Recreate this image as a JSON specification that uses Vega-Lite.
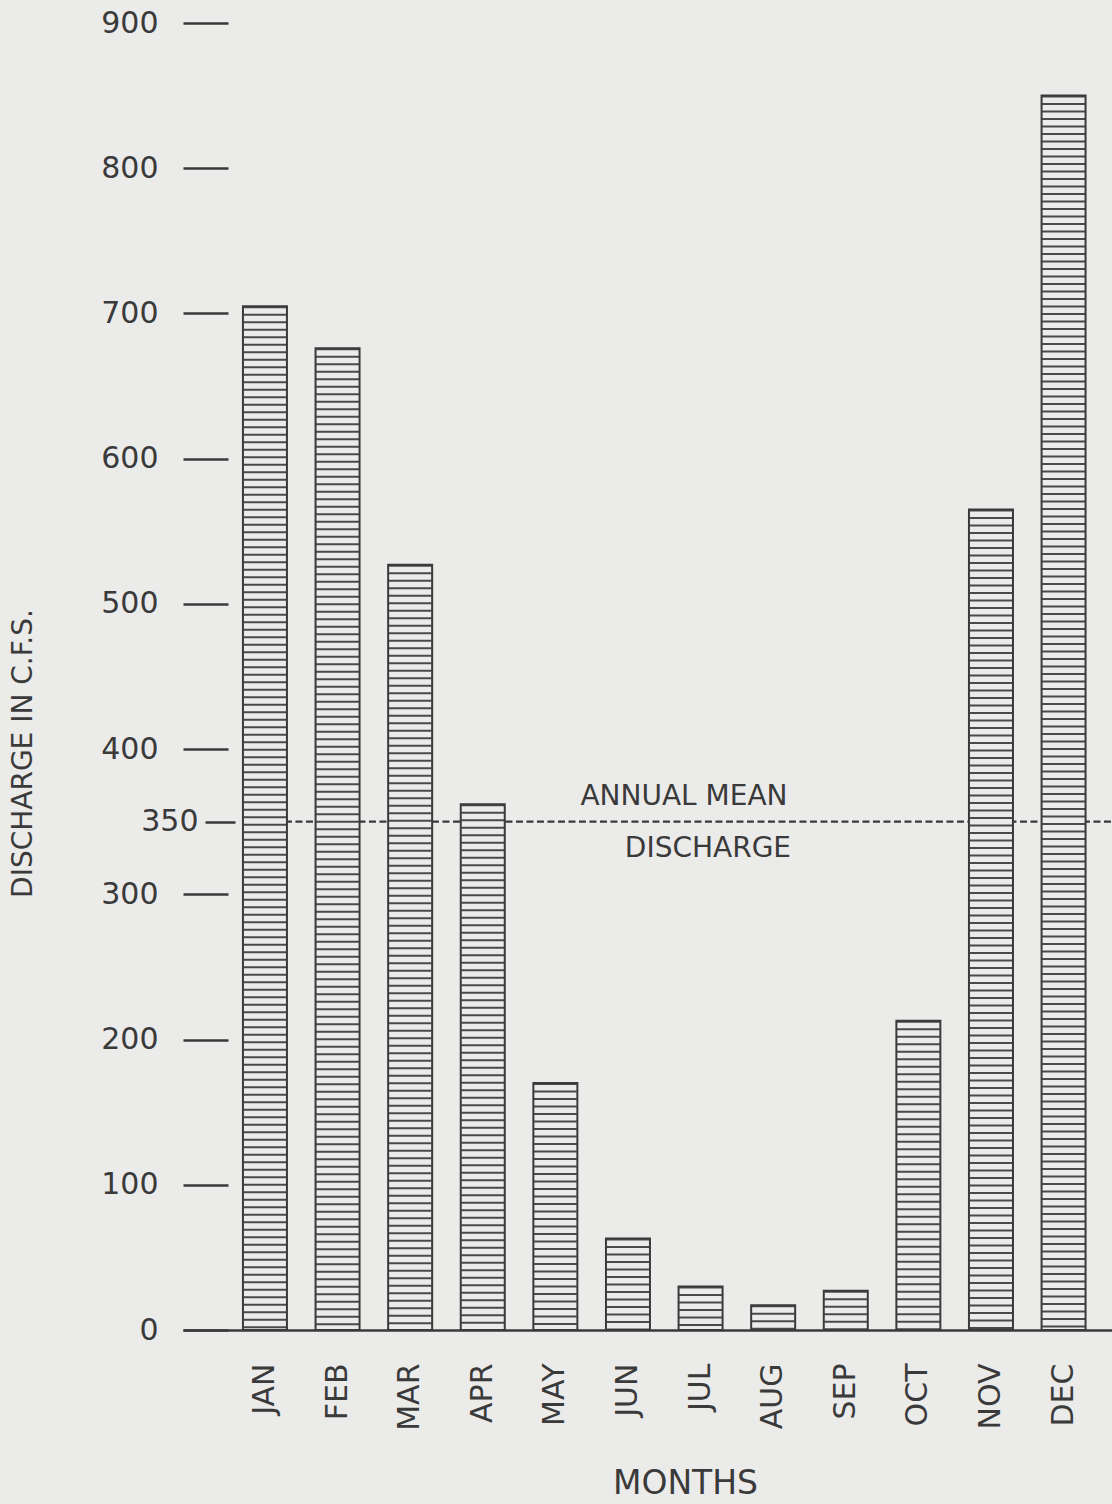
{
  "$schema": "https://vega.github.io/schema/vega-lite/v6.json",
  "width": 929,
  "height": 1307,
  "autosize": "none",
  "padding": {"left": 183, "top": 23, "right": 0, "bottom": 174},
  "background": "#ebebea",
  "config": {
    "view": {"stroke": null},
    "font": "DejaVu Sans",
    "axis": {"grid": false, "labelFont": "DejaVu Sans", "titleFont": "DejaVu Sans", "labelColor": "#3a3a3a", "titleColor": "#3a3a3a", "titleFontWeight": "normal"}
  },
  "data": {
    "values": [
      {"month": "JAN", "discharge": 705},
      {"month": "FEB", "discharge": 676},
      {"month": "MAR", "discharge": 527},
      {"month": "APR", "discharge": 362},
      {"month": "MAY", "discharge": 170},
      {"month": "JUN", "discharge": 63},
      {"month": "JUL", "discharge": 30},
      {"month": "AUG", "discharge": 17},
      {"month": "SEP", "discharge": 27},
      {"month": "OCT", "discharge": 213},
      {"month": "NOV", "discharge": 565},
      {"month": "DEC", "discharge": 850}
    ]
  },
  "layer": [
    {
      "data": {"values": [{"mean": 350}]},
      "mark": {"type": "rule", "color": "#3a3a3a", "strokeWidth": 2.2, "strokeDash": [7, 3.5]},
      "encoding": {
        "x": {"datum": "JAN", "type": "nominal", "bandPosition": 0, "axis": null},
        "x2": {"value": "width"},
        "y": {
          "field": "mean",
          "type": "quantitative",
          "axis": {
            "orient": "left",
            "values": [350],
            "offset": -52,
            "tickSize": 30,
            "tickWidth": 2.5,
            "tickColor": "#3a3a3a",
            "domain": false,
            "labelFontSize": 30,
            "labelPadding": 7,
            "labelFlush": false,
            "labelOverlap": false,
            "title": null
          }
        }
      }
    },
    {
      "mark": {"type": "bar", "fill": "#ebebea", "stroke": null},
      "encoding": {
        "x": {
          "field": "month",
          "type": "nominal",
          "sort": null,
          "scale": {
            "domain": ["JAN", "FEB", "MAR", "APR", "MAY", "JUN", "JUL", "AUG", "SEP", "OCT", "NOV", "DEC"],
            "paddingInner": 0.394,
            "paddingOuter": 0.595,
            "align": 0.694
          },
          "axis": {
            "orient": "bottom",
            "title": "MONTHS",
            "labelAngle": -90,
            "labelFontSize": 30,
            "labelPadding": 33,
            "ticks": false,
            "domainWidth": 2.5,
            "domainColor": "#3a3a3a",
            "titleFontSize": 33,
            "titleX": 502,
            "titleY": 163,
            "titleBaseline": "alphabetic",
            "titleAlign": "center"
          }
        },
        "y": {
          "field": "discharge",
          "type": "quantitative",
          "scale": {"domain": [0, 900], "nice": false},
          "axis": {
            "orient": "left",
            "values": [0, 100, 200, 300, 400, 500, 600, 700, 800, 900],
            "offset": -45,
            "tickSize": 45,
            "tickWidth": 2.5,
            "tickColor": "#3a3a3a",
            "domain": false,
            "labelFontSize": 30,
            "labelPadding": 25,
            "labelFlush": false,
            "labelOverlap": false,
            "title": "DISCHARGE IN C.F.S.",
            "titleFontSize": 28,
            "titleAngle": 270,
            "titleX": -197,
            "titleY": 730,
            "titleAlign": "center",
            "titleBaseline": "alphabetic"
          }
        }
      }
    },
    {
      "mark": {"type": "rule", "color": "#4a4a4a", "strokeWidth": 43, "strokeDash": [2, 5.5], "strokeCap": "butt"},
      "encoding": {
        "x": {"field": "month", "type": "nominal", "sort": null, "axis": null},
        "y": {"field": "discharge", "type": "quantitative", "axis": null},
        "y2": {"datum": 0}
      }
    },
    {
      "mark": {"type": "bar", "filled": false, "color": "#3a3a3a", "strokeWidth": 2},
      "encoding": {
        "x": {"field": "month", "type": "nominal", "sort": null, "axis": null},
        "y": {"field": "discharge", "type": "quantitative", "axis": null}
      }
    },
    {
      "data": {"values": [{"note": "ANNUAL MEAN"}]},
      "mark": {"type": "text", "fontSize": 28, "color": "#3a3a3a", "align": "center", "baseline": "alphabetic", "dx": 56, "dy": -17},
      "encoding": {
        "x": {"datum": "JUN", "type": "nominal", "axis": null},
        "y": {"datum": 350, "type": "quantitative", "axis": null},
        "text": {"field": "note"}
      }
    },
    {
      "data": {"values": [{"note": "DISCHARGE"}]},
      "mark": {"type": "text", "fontSize": 28, "color": "#3a3a3a", "align": "center", "baseline": "alphabetic", "dx": 80, "dy": 35},
      "encoding": {
        "x": {"datum": "JUN", "type": "nominal", "axis": null},
        "y": {"datum": 350, "type": "quantitative", "axis": null},
        "text": {"field": "note"}
      }
    }
  ],
  "resolve": {"axis": {"x": "independent", "y": "independent"}}
}
